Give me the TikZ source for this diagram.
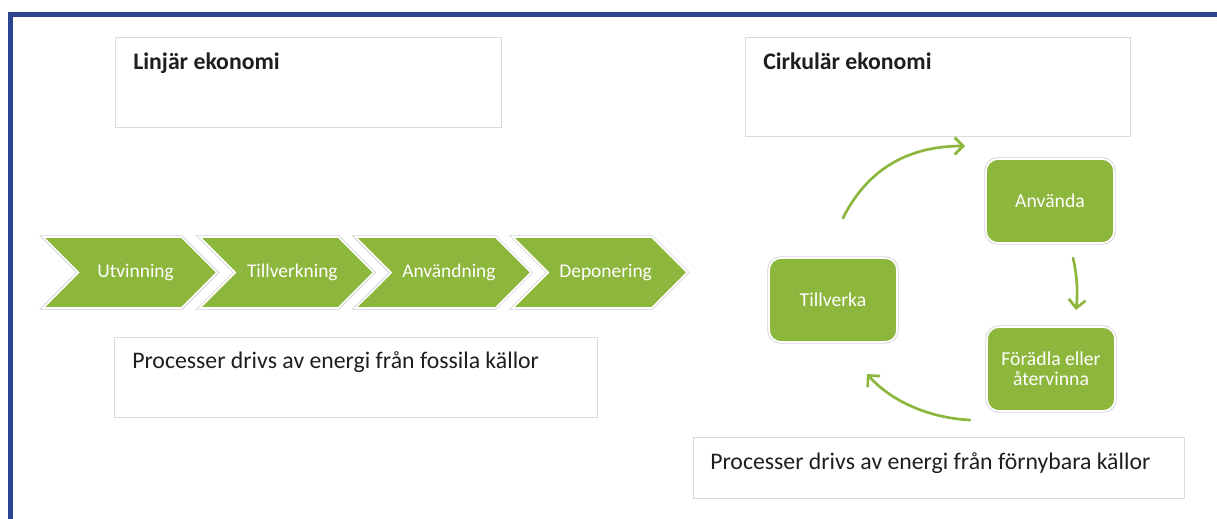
\documentclass[tikz,border=0pt]{standalone}
\usepackage{fontspec}
\setmainfont{Carlito}
\usetikzlibrary{shapes.symbols,arrows.meta}
\definecolor{greenish}{HTML}{8DB63C}
\definecolor{frameblue}{HTML}{2D4491}
\definecolor{inkish}{HTML}{1E1E1E}

\begin{document}
\begin{tikzpicture}[x=0.025cm,y=-0.025cm,
    chev/.style={signal, signal from=west, signal to=east, signal pointer angle=90,
      fill=greenish, draw=white, line width=1.2pt, preaction={draw=black!18, line width=2.4pt},
      minimum width=4.35cm, minimum height=1.775cm, inner sep=0pt, text=white,
      font=\fontsize{13.8}{16}\selectfont},
    gbox/.style={rectangle, rounded corners=0.3cm, fill=greenish, draw=white, line width=1.2pt,
      preaction={draw=black!18, line width=2.4pt}, minimum width=3.2cm, minimum height=2.1cm,
      inner sep=0pt, text=white, align=center, font=\fontsize{14}{14.5}\selectfont},
    tbox/.style={draw=black!14, line width=0.7pt, inner sep=0pt},
    title/.style={anchor=base west, inner sep=0pt, text=inkish, font=\bfseries\fontsize{16.9}{20}\selectfont},
    note/.style={anchor=base west, inner sep=0pt, text=inkish, font=\fontsize{16.9}{20}\selectfont},
    cyc/.style={draw=greenish, line width=1.9pt, line cap=round,
      -{Straight Barb[length=6pt,width=12pt,line width=1.9pt]}}
  ]
    \useasboundingbox (0,0) rectangle (1217,519);
    \draw[frameblue, line width=2.9pt, line join=miter] (10.5,530) -- (10.5,14.5) -- (1230,14.5);

    % linear economy
    \node[tbox, minimum width=9.625cm, minimum height=2.225cm] (linbox) at (308.5,82.5) {};
    \node[title] (lintitle) at (133,70) {Linjär ekonomi};
    \node[chev] (utv) at (130,272.5) {\hspace{8pt}Utvinning};
    \node[chev] (tillv) at (286.7,272.5) {\hspace{8pt}Tillverkning};
    \node[chev] (anvn) at (443.3,272.5) {\hspace{8pt}Användning};
    \node[chev] (dep) at (600,272.5) {\hspace{8pt}Deponering};
    \node[tbox, minimum width=12.05cm, minimum height=2cm] (fossbox) at (356,377) {};
    \node[note] (fosstext) at (132,368) {Processer drivs av energi från fossila källor};

    % circular economy
    \node[tbox, minimum width=9.6cm, minimum height=2.45cm] (cirkbox) at (938,87) {};
    \node[title] (cirktitle) at (763,70) {Cirkulär ekonomi};
    \node[gbox] (anvanda) at (1050,201) {Använda};
    \node[gbox] (tillverka) at (833,300) {Tillverka};
    \node[gbox] (foradla) at (1051,369) {Förädla eller\\återvinna};
    \coordinate (a1s) at (843,218);
    \coordinate (a1e) at (965,146);
    \coordinate (a2s) at (1073,258);
    \coordinate (a2e) at (1076,310);
    \coordinate (a3s) at (970,420);
    \coordinate (a3e) at (867,374);
    \draw[cyc] (a1s) .. controls (866,172) and (905,146) .. (a1e);
    \draw[cyc] (a2s) .. controls (1077,275) and (1078,292) .. (a2e);
    \draw[cyc] (a3s) .. controls (930,418) and (892,402) .. (a3e);
    \node[tbox, minimum width=12.25cm, minimum height=1.525cm] (fornbox) at (939,467.5) {};
    \node[note] (forntext) at (710,469) {Processer drivs av energi från förnybara källor};
\end{tikzpicture}
\end{document}
